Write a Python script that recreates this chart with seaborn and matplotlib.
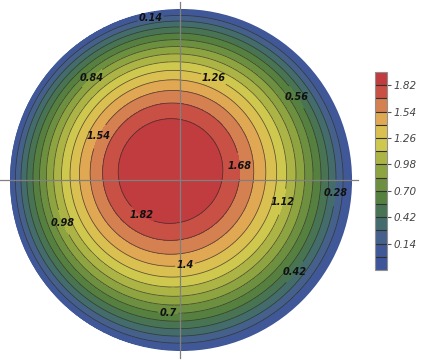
import numpy as np
import matplotlib
matplotlib.use("Agg")
import matplotlib.pyplot as plt
import matplotlib.patches as mpatches
from matplotlib.colors import ListedColormap
import seaborn as sns

sns.set_theme(style="white")
plt.rcParams['font.family'] = ['DejaVu Sans']

# contour levels and colour-bar ticks
levels = np.round(np.arange(1, 14) * 0.14, 2)          # 0.14 ... 1.82
fill_levels = [-0.12, 0.0] + list(levels) + [1.96, 2.1]
cbar_ticks = [0.14, 0.42, 0.70, 0.98, 1.26, 1.54, 1.82]

# surface: peak slightly left/up of centre, zero on the unit circle
peak_amp = 2.0
tilt_x = -0.1255
tilt_y = 0.119

# where the contour labels sit (data coords)
label_pos = [(-0.176, 0.97), (-0.512, 0.594), (0.2, 0.6), (0.676, 0.482),
             (-0.47, 0.253), (0.335, 0.082), (0.912, -0.076), (0.606, -0.129),
             (-0.694, -0.253), (-0.247, -0.241), (0.035, -0.53), (0.682, -0.547),
             (-0.07, -0.8)]

# one colour per band, bottom to top
band_colors = ['#3e5699', '#405898', '#46608c', '#446c6c', '#487454', '#568040',
               '#6c9040', '#8ea440', '#acb446', '#cec84e', '#dac050', '#e0a852',
               '#d48050', '#c85044', '#c03c3e', '#c03c3e']
cmap = ListedColormap(sns.color_palette(band_colors))

g = np.linspace(-1.1, 1.1, 700)
X, Y = np.meshgrid(g, g)
Z = peak_amp * (1 - X**2 - Y**2) * (1 + tilt_x * X + tilt_y * Y)

fig = plt.figure(figsize=(4.21, 3.6), dpi=100)
ax = fig.add_axes([0, 2 / 360, 358 / 421, 356 / 360])

cf = ax.contourf(X, Y, Z, levels=fill_levels, cmap=cmap, zorder=1)
cl = ax.contour(X, Y, Z, levels=levels, colors='#2a2a2a', linewidths=0.55, alpha=0.75, zorder=1.5)
disk = mpatches.Circle((0.006, 0), 1.006, transform=ax.transData)
cf.set_clip_path(disk)
cl.set_clip_path(disk)

txt = ax.clabel(cl, levels, manual=label_pos, inline=True, inline_spacing=2,
                fmt=lambda v: f"{v:g}", fontsize=7)
for t in txt:
    t.set_rotation(0)
    t.set_fontstyle('italic')
    t.set_fontweight('bold')
    t.set_color('#111111')

ax.set_xlim(-180 / 170, 178 / 170)
ax.set_ylim(-178 / 170, 178 / 170)
ax.set_facecolor('none')
for s in ['top', 'right']:
    ax.spines[s].set_visible(False)
for s in ['left', 'bottom']:
    ax.spines[s].set_position(('data', 0))
    ax.spines[s].set_color('#808080')
    ax.spines[s].set_linewidth(0.9)
    ax.spines[s].set_zorder(3)
ticks = [t for t in np.round(np.arange(-1.0, 1.01, 0.1), 2) if t != 0]
ax.set_xticks(ticks)
ax.set_yticks(ticks)
ax.set_xticklabels([])
ax.set_yticklabels([])
ax.tick_params(direction='in', length=2.5, width=0.8, color='#808080')

cax = fig.add_axes([375 / 421, 90 / 360, 12 / 421, 198 / 360])
cb = fig.colorbar(cf, cax=cax, drawedges=True, ticks=cbar_ticks)
cax.set_ylim(-0.12, 1.96)
cb.dividers.set_color('#303030')
cb.dividers.set_linewidth(0.8)
cb.outline.set_edgecolor('#909090')
cb.outline.set_linewidth(0.8)
cax.set_yticklabels([f"{t:.2f}" for t in cbar_ticks])
cax.tick_params(direction='out', length=3, width=0.8, color='#555555',
                labelsize=7.5, labelcolor='#444444', pad=2)
for t in cax.get_yticklabels():
    t.set_fontstyle('italic')

fig.savefig('out.png', dpi=100)
